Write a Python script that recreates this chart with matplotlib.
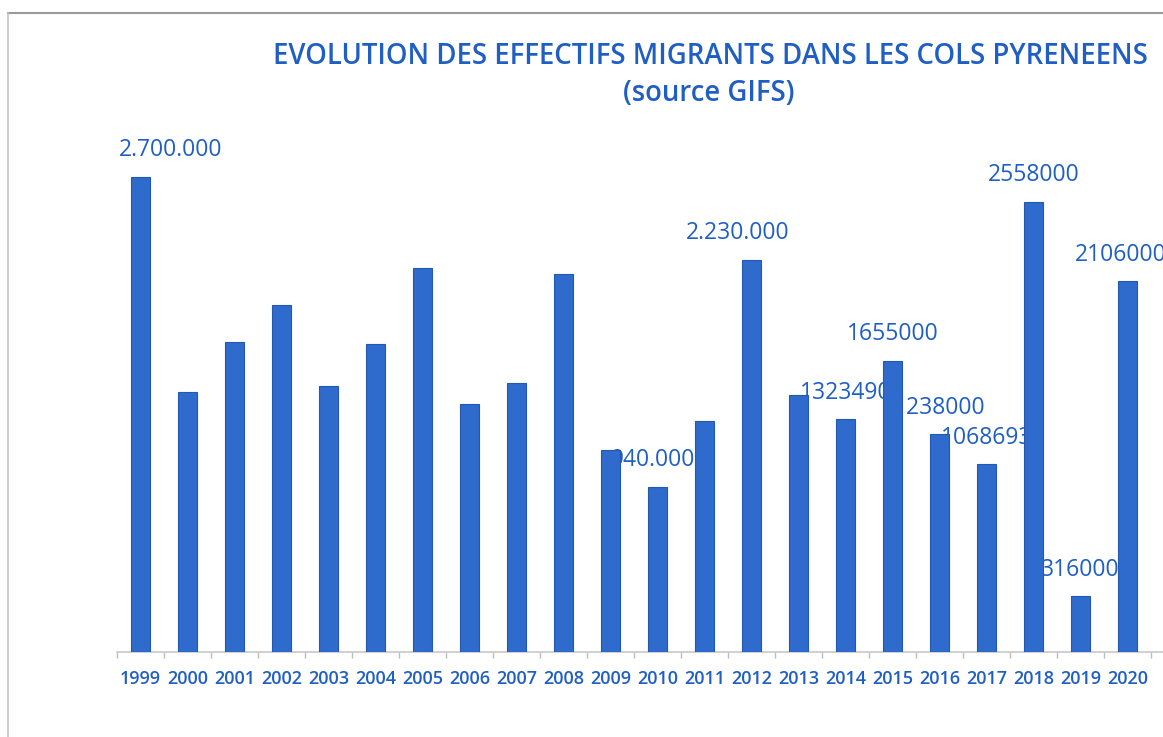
import matplotlib
matplotlib.use('Agg')
import matplotlib.pyplot as plt
from matplotlib.lines import Line2D
import numpy as np

# Data (bar heights, labels where printed)
years = ['1999', '2000', '2001', '2002', '2003', '2004', '2005', '2006',
         '2007', '2008', '2009', '2010', '2011', '2012', '2013', '2014',
         '2015', '2016', '2017', '2018', '2019', '2020']
effectifs = [2700000, 1480000, 1760000, 1970000, 1510000, 1750000, 2180000,
             1410000, 1530000, 2150000, 1150000, 940000, 1310000, 2230000,
             1460000, 1323490, 1655000, 1238000, 1068693, 2558000, 316000,
             2106000]
value_labels = ['2.700.000', '', '', '', '', '', '', '', '', '', '',
                '940.000', '', '2.230.000', '', '1323490', '1655000',
                '1238000', '1068693', '2558000', '316000', '2106000']
# horizontal nudges (points) of the labels, as placed in the original
label_dx = [22, 0, 0, 0, 0, 0, 0, 0, 0, 0, 0,
            -3, 0, -10, 0, 0, 0, 0, 0, 0, 0, -5]

blue_txt = '#1f5fc4'
blue_bar = '#2e6bcd'

plt.rcParams['font.family'] = ['Open Sans', 'DejaVu Sans']

fig = plt.figure(figsize=(11.63, 7.37), dpi=100)
ax = fig.add_axes([0.1006, 0.1153, 0.8994, 0.7164])

x = np.arange(len(years))
ax.bar(x, effectifs, width=0.41, color=blue_bar, edgecolor='#2358b4',
       linewidth=0.8, zorder=3)

for i, (v, lab) in enumerate(zip(effectifs, value_labels)):
    if lab:
        ax.annotate(lab, xy=(i, v), xytext=(label_dx[i], 19),
                    textcoords='offset points', ha='center', va='center',
                    fontsize=16.5, color=blue_txt, fontweight='medium',
                    zorder=1)

ax.set_xlim(-0.5, 21.75)
ax.set_ylim(0, 3000000)
ax.set_xticks(x)
ax.set_xticklabels(years, fontsize=13, color=blue_txt, fontweight='semibold')
ax.set_xticks(np.arange(-0.5, 22, 1), minor=True)
ax.tick_params(axis='x', which='major', length=0, pad=13)
ax.tick_params(axis='x', which='minor', length=4, color='#bdbdbd', width=1)
ax.set_yticks([])
for s in ['top', 'right', 'left']:
    ax.spines[s].set_visible(False)
ax.spines['bottom'].set_color('#c8c8c8')
ax.spines['bottom'].set_linewidth(1.2)

fig.text(0.6105, 0.924, 'EVOLUTION DES EFFECTIFS MIGRANTS DANS LES COLS PYRENEENS',
         ha='center', va='center', fontsize=19.8, color=blue_txt, fontweight='semibold')
fig.text(0.6095, 0.873, '(source GIFS)', ha='center', va='center',
         fontsize=19.8, color=blue_txt, fontweight='semibold')

# chart frame from the scan
fig.add_artist(Line2D([0.0069, 1.0], [0.9824, 0.9824], color='#9a9a9a', lw=1.5))
fig.add_artist(Line2D([0.0069, 0.0069], [0.0, 0.9824], color='#c4c4c4', lw=1.2))

plt.savefig('out.png', dpi=100)
